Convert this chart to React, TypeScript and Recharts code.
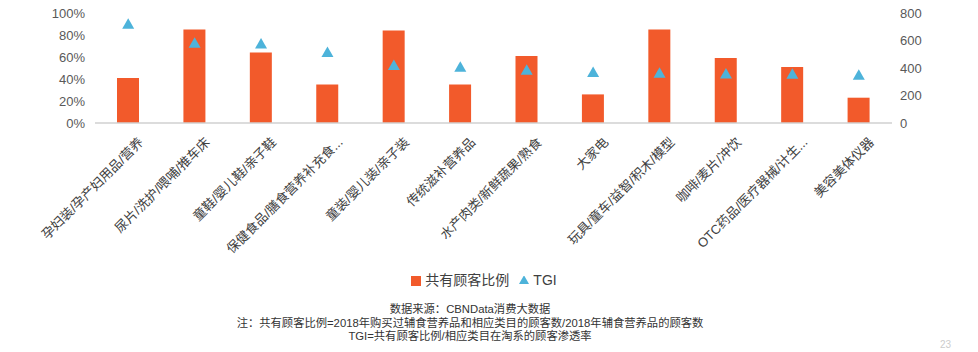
import React from "react";
import {
  Bar,
  ComposedChart,
  Legend,
  Line,
  XAxis,
  YAxis,
} from "recharts";

const categories = [
  "孕妇装/孕产妇用品/营养",
  "尿片/洗护/喂哺/推车床",
  "童鞋/婴儿鞋/亲子鞋",
  "保健食品/膳食营养补充食...",
  "童装/婴儿装/亲子装",
  "传统滋补营养品",
  "水产肉类/新鲜蔬果/熟食",
  "大家电",
  "玩具/童车/益智/积木/模型",
  "咖啡/麦片/冲饮",
  "OTC药品/医疗器械/计生...",
  "美容美体仪器",
];

const shareRatio = [0.41, 0.85, 0.64, 0.35, 0.84, 0.35, 0.61, 0.26, 0.85, 0.59, 0.51, 0.23];
const tgi = [718, 580, 574, 512, 418, 406, 384, 367, 362, 357, 355, 348];

const leftTicks = [0, 0.2, 0.4, 0.6, 0.8, 1];
const rightTicks = [0, 200, 400, 600, 800];

const footnotes = [
  "数据来源：CBNData消费大数据",
  "注：共有顾客比例=2018年购买过辅食营养品和相应类目的顾客数/2018年辅食营养品的顾客数",
  "TGI=共有顾客比例/相应类目在淘系的顾客渗透率",
];

const chartData = categories.map((name, i) => ({
  name,
  share: shareRatio[i],
  tgi: tgi[i],
}));

const FONT = "'Liberation Sans', 'Noto Sans CJK SC', sans-serif";
const ORANGE = "#F25A2B";
const BLUE = "#4DB3DA";

function Triangle(props: any) {
  const { cx, cy, index } = props;
  if (cx == null || cy == null) return null;
  return (
    <path
      key={index}
      d={`M${cx},${cy - 6} L${cx + 6},${cy + 4.5} L${cx - 6},${cy + 4.5} Z`}
      fill={BLUE}
    />
  );
}

function CategoryTick(props: any) {
  const { x, y, payload } = props;
  const ax = x + 16;
  const ay = y + 12;
  return (
    <text
      x={ax}
      y={ay}
      textAnchor="end"
      transform={`rotate(-45, ${ax}, ${ay})`}
      fontSize={13}
      fill="#404040"
      fontFamily={FONT}
    >
      {payload.value}
    </text>
  );
}

// bar first, then TGI
const legendOrder = (item: any) => (item.value === "TGI" ? 1 : 0);

export default function App() {
  return (
    <div
      style={{
        position: "absolute",
        left: 0,
        top: 0,
        width: 978,
        height: 352,
        background: "#fff",
        fontFamily: FONT,
      }}
    >
      <ComposedChart
        width={978}
        height={300}
        data={chartData}
        margin={{ top: 13, right: 0, left: 0, bottom: 10 }}
      >
        <XAxis
          dataKey="name"
          interval={0}
          height={147}
          tick={<CategoryTick />}
          tickLine={false}
          axisLine={{ stroke: "#d0d0d0", strokeWidth: 1.5 }}
        />
        <YAxis
          yAxisId="left"
          width={95}
          domain={[0, 1]}
          ticks={leftTicks}
          tickFormatter={(v: number) => `${Math.round(v * 100)}%`}
          axisLine={false}
          tickLine={false}
          tickMargin={4}
          tick={{ fontSize: 13, fill: "#595959", fontFamily: FONT }}
        />
        <YAxis
          yAxisId="right"
          orientation="right"
          width={86}
          domain={[0, 800]}
          ticks={rightTicks}
          axisLine={false}
          tickLine={false}
          tick={{ fontSize: 13, fill: "#595959", fontFamily: FONT }}
        />
        <Legend
          verticalAlign="bottom"
          align="center"
          iconSize={10}
          itemSorter={legendOrder}
          wrapperStyle={{ fontSize: 14, lineHeight: "20px", color: "#404040" }}
          formatter={(value: string) => (
            <span style={{ color: "#404040" }}>{value}</span>
          )}
        />
        <Bar
          yAxisId="left"
          dataKey="share"
          name="共有顾客比例"
          fill={ORANGE}
          barSize={22}
          legendType="square"
          isAnimationActive={false}
        />
        <Line
          yAxisId="right"
          dataKey="tgi"
          name="TGI"
          stroke={BLUE}
          strokeWidth={0}
          dot={<Triangle />}
          activeDot={false}
          legendType="triangle"
          isAnimationActive={false}
        />
      </ComposedChart>
      <div
        style={{
          position: "absolute",
          top: 303,
          left: 0,
          width: 940,
          textAlign: "center",
          fontSize: 11.3,
          lineHeight: "13.5px",
          color: "#333",
        }}
      >
        {footnotes.map((t) => (
          <div key={t}>{t}</div>
        ))}
      </div>
      <div
        style={{
          position: "absolute",
          top: 339,
          left: 940,
          fontSize: 10,
          color: "#ccc",
        }}
      >
        23
      </div>
    </div>
  );
}
